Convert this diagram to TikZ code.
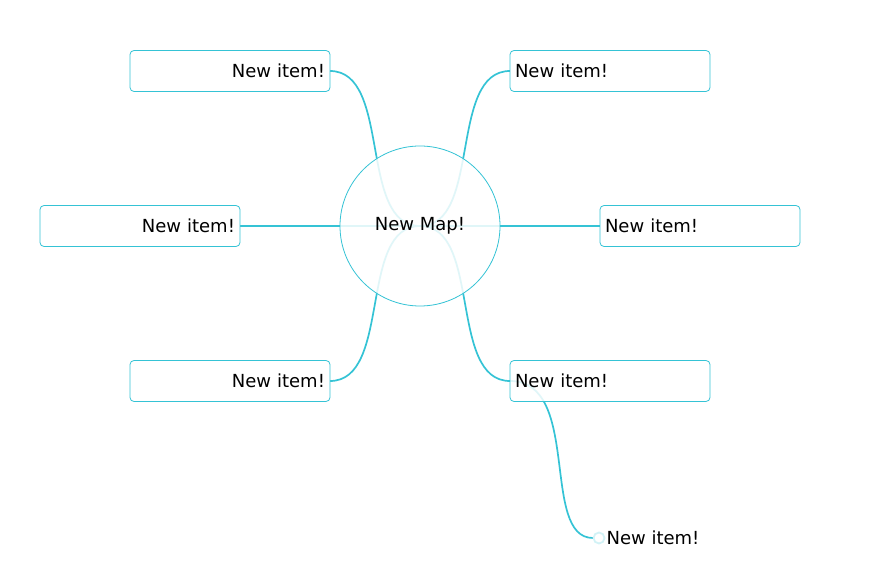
\documentclass[tikz,border=0pt]{standalone}
\usepackage{fontspec}
\setmainfont{DejaVu Sans}
\usepackage{tikz}
\usetikzlibrary{positioning}

\definecolor{mapcyan}{HTML}{35C3D5}
\definecolor{mappale}{HTML}{D2F2F6}

\tikzset{
    item/.style = {draw=mapcyan, line width=0.8pt, rounded corners=4pt,
                   fill=white, fill opacity=0.85, text opacity=1,
                   minimum height=41pt, text width=190pt, inner sep=5pt},
    leftitem/.style = {item, align=right},
    rightitem/.style = {item, align=left},
    link/.style = {draw=mapcyan, line width=1.7pt},
}

\begin{document}
\begin{tikzpicture}[x=1pt, y=-1pt, font=\fontsize{18}{22}\selectfont]
    \useasboundingbox (0,0) rectangle (884,580);

    % links first, so the shapes on top fade them
    \coordinate (c) at (420,226);
    \path[link] (330,71) .. controls (392,71) and (358,226) .. (c);
    \path[link] (240,226) -- (c);
    \path[link] (330,381) .. controls (392,381) and (358,226) .. (c);
    \path[link] (510,71) .. controls (448,71) and (482,226) .. (c);
    \path[link] (600,226) -- (c);
    \path[link] (510,381) .. controls (448,381) and (482,226) .. (c);
    \path[link] (510,381) .. controls (582,381) and (540,538) .. (593,538);

    \node[circle, draw=mapcyan, line width=0.8pt, fill=white, fill opacity=0.85,
          text opacity=1, minimum size=160pt, inner sep=0pt] (map) at (c) {New Map!};

    \node[leftitem]  (tl) at (230,71)  {New item!};
    \node[leftitem]  (ml) at (140,226) {New item!};
    \node[leftitem]  (bl) at (230,381) {New item!};
    \node[rightitem] (tr) at (610,71)  {New item!};
    \node[rightitem] (mr) at (700,226) {New item!};
    \node[rightitem] (br) at (610,381) {New item!};

    \node[circle, draw=mappale, line width=1.8pt, fill=white,
          minimum size=11pt, inner sep=0pt] (dot) at (599,538) {};
    \node[right=0pt of dot, inner sep=1pt] (sub) {New item!};
\end{tikzpicture}
\end{document}
